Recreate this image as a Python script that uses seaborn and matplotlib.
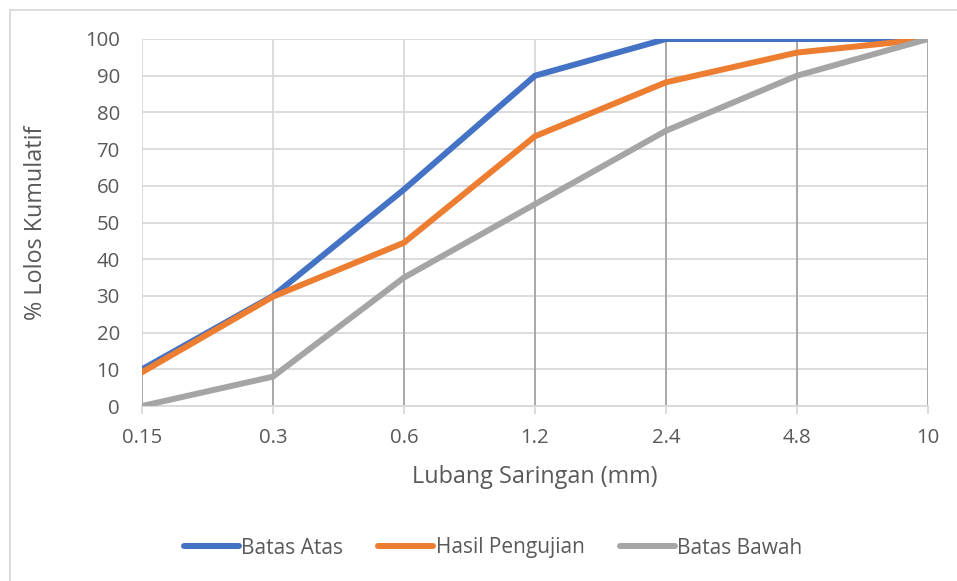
import matplotlib
matplotlib.use("Agg")
import matplotlib.pyplot as plt
from matplotlib.lines import Line2D
import numpy as np
import pandas as pd
import seaborn as sns

# Sieve sizes (mm) and cumulative passing percentages
sieve_sizes = ["0.15", "0.3", "0.6", "1.2", "2.4", "4.8", "10"]
batas_atas = [10, 30, 59, 90, 100, 100, 100]
hasil_pengujian = [9.2, 29.8, 44.5, 73.5, 88.2, 96.3, 100]
batas_bawah = [0, 8, 35, 55, 75, 90, 100]

series_names = ["Batas Atas", "Hasil Pengujian", "Batas Bawah"]
series_colors = ["#4472C4", "#ED7D31", "#A5A5A5"]
y_ticks = list(range(0, 101, 10))

pos = np.arange(len(sieve_sizes))
df = pd.concat([
    pd.DataFrame({"pos": pos, "value": vals, "series": name})
    for name, vals in zip(series_names, [batas_atas, hasil_pengujian, batas_bawah])
], ignore_index=True)

sns.set_theme(style="white")
plt.rcParams["font.family"] = ["Open Sans", "DejaVu Sans"]
text_color = "#595959"
grid_color = "#D9D9D9"

W, H = 957, 581
x0, x1, y0, y1 = 142, 928, 406, 39
fig = plt.figure(figsize=(W / 100, H / 100), dpi=100)
ax = fig.add_axes([x0 / W, 1 - y0 / H, (x1 - x0) / W, (y0 - y1) / H])

# Drop lines from the highest series value down to the axis
top_vals = df.groupby("pos")["value"].max()
ax.vlines(top_vals.index, 0, top_vals.values, color="#A5A5A5", lw=1.3, zorder=2)

sns.lineplot(data=df, x="pos", y="value", hue="series", hue_order=series_names,
             palette=series_colors, linewidth=4.3, sort=False, legend=False,
             ax=ax, zorder=3)

ax.set_xlim(0, len(sieve_sizes) - 1)
ax.set_ylim(0, 100)
ax.set_xticks(pos)
ax.set_xticklabels(sieve_sizes)
ax.set_yticks(y_ticks)
ax.grid(True, color=grid_color, lw=1.3, zorder=0)
ax.set_axisbelow(True)
for side in ["top", "right", "left"]:
    ax.spines[side].set_visible(False)
ax.spines["bottom"].set_color(grid_color)
ax.spines["bottom"].set_linewidth(1.3)
ax.tick_params(axis="x", which="major", length=6, width=1.3, color=grid_color,
               direction="out", labelsize=14.7, labelcolor=text_color, pad=9.5, bottom=True)
ax.tick_params(axis="y", length=0, labelsize=14.7, labelcolor=text_color, pad=16)

ax.set_xlabel("Lubang Saringan (mm)", fontsize=16.8, color=text_color, va="center")
ax.set_ylabel("% Lolos Kumulatif", fontsize=16.8, color=text_color, va="center")
ax.xaxis.set_label_coords(0.5, (y0 - 477) / (y0 - y1))
ax.yaxis.set_label_coords((36 - x0) / (x1 - x0), 0.5)

handles = [Line2D([0], [0], color=c, lw=4.3, solid_capstyle="round") for c in series_colors]
fig.legend(handles, series_names, loc="center", bbox_to_anchor=(493 / W, 1 - 548 / H),
           ncol=3, frameon=False, fontsize=15, handlelength=2.65, handletextpad=0.1,
           columnspacing=1.7, labelcolor=text_color)

# Chart area outline
fig.add_artist(Line2D([10 / W, 10 / W], [1 - 9.5 / H, 0], transform=fig.transFigure,
                      color=grid_color, lw=1.3))
fig.add_artist(Line2D([10 / W, 1], [1 - 9.5 / H, 1 - 9.5 / H], transform=fig.transFigure,
                      color=grid_color, lw=1.3))

fig.savefig("out.png", dpi=100)
